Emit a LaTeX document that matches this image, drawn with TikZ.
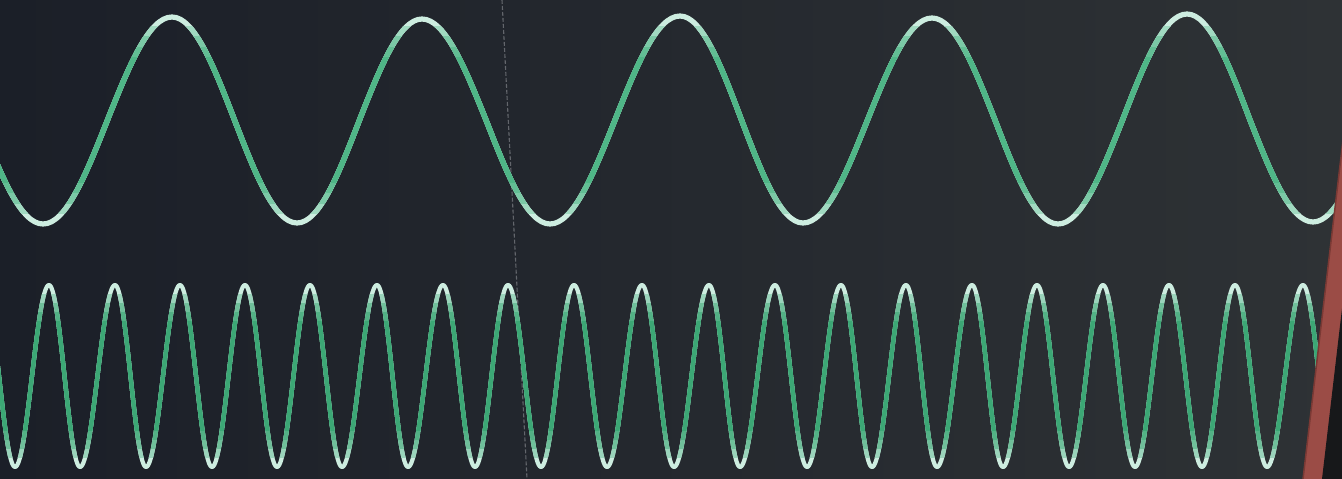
\documentclass[tikz,border=0pt]{standalone}
\usepackage{xcolor}
\definecolor{bgL}{HTML}{1B1F28}
\definecolor{bgM}{HTML}{24282D}
\definecolor{bgR}{HTML}{2E3235}
\definecolor{tgreen}{HTML}{4FB687}
\definecolor{bgreen}{HTML}{3CA775}
\definecolor{wpale}{HTML}{CDEDE0}
\definecolor{redstrip}{HTML}{9B4C46}
\definecolor{reddark}{HTML}{7A3934}
\definecolor{frameblack}{HTML}{17181A}
\definecolor{crease}{HTML}{9A9CA0}

\newcommand\toppath{(-84,18) cos (-20.5,120) sin (43,224) cos (107.5,120) sin (172,17) cos (234.5,120) sin (297,223) cos (359.5,120) sin (422,19) cos (486,120) sin (550,224) cos (615,120) sin (680,16) cos (741.5,120) sin (803,223) cos (867.5,120) sin (932,18) cos (995,120) sin (1058,224) cos (1122.5,120) sin (1187,14) cos (1250,120) sin (1313,222) cos (1376,120) sin (1440,14)}

\newcommand\botpath{(-17,285) cos (-1,376) sin (15,467) cos (32,376) sin (49,285) cos (64.5,376) sin (80,467) cos (97.5,376) sin (115,285) cos (130.5,376) sin (146,467) cos (163,376) sin (180,285) cos (196,376) sin (212,467) cos (228.5,376) sin (245,285) cos (261,376) sin (277,467) cos (293.5,376) sin (310,285) cos (326,376) sin (342,467) cos (359.5,376) sin (377,285) cos (392.5,376) sin (408,467) cos (425.5,376) sin (443,285) cos (459,376) sin (475,467) cos (491.5,376) sin (508,285) cos (524.5,376) sin (541,467) cos (557.5,376) sin (574,285) cos (590.5,376) sin (607,467) cos (624.5,376) sin (642,285) cos (658,376) sin (674,467) cos (691.5,376) sin (709,285) cos (724.5,376) sin (740,467) cos (757.5,376) sin (775,285) cos (791,376) sin (807,467) cos (824,376) sin (841,285) cos (856.5,376) sin (872,467) cos (889,376) sin (906,285) cos (921.5,376) sin (937,467) cos (954.5,376) sin (972,285) cos (987.5,376) sin (1003,467) cos (1020,376) sin (1037,285) cos (1053,376) sin (1069,467) cos (1086,376) sin (1103,285) cos (1119,376) sin (1135,467) cos (1152,376) sin (1169,285) cos (1185.5,376) sin (1202,467) cos (1218.5,376) sin (1235,285) cos (1251,376) sin (1267,467) cos (1285,376) sin (1303,285) cos (1319,376) sin (1335,467)}

\begin{document}
\begin{tikzpicture}[x=1pt,y=-1pt,
  topwave/.style={line width=5.2pt,line cap=round,line join=round},
  botwave/.style={line width=4.2pt,line cap=round,line join=round}]
\useasboundingbox (0,0) rectangle (1342,479);
\clip (0,0) rectangle (1342,479);
% background
\shade[left color=bgL, middle color=bgM, right color=bgR] (0,0) rectangle (1342,479);
% paper crease
\draw[crease, opacity=0.55, line width=1.1pt, dash pattern=on 4pt off 2pt] (502,0) -- (527,479);
% top (low-frequency) wave, pale at the crests
\foreach \k/\c in {1.3/wpale, 0.9/tgreen!35!wpale, 0.8/tgreen!65!wpale, 0.7/tgreen!85!wpale, 0.6/tgreen}{
  \begin{scope}
    \clip (-100,{120-\k*104}) rectangle (1450,{120+\k*104});
    \draw[topwave, color=\c] \toppath;
  \end{scope}
}
% bottom (high-frequency) wave
\foreach \k/\c in {1.3/wpale, 0.9/bgreen!35!wpale, 0.8/bgreen!65!wpale, 0.7/bgreen!85!wpale, 0.6/bgreen}{
  \begin{scope}
    \clip (-100,{376-\k*91}) rectangle (1450,{376+\k*91});
    \draw[botwave, color=\c] \botpath;
  \end{scope}
}
% red frame edge at the right
\fill[redstrip] (1303,479) -- (1343,140) -- (1343,479) -- cycle;
\draw[reddark, line width=1.5pt] (1303,479) -- (1343,140);
\fill[frameblack] (1322,479) -- (1343,300) -- (1343,479) -- cycle;
\end{tikzpicture}
\end{document}
